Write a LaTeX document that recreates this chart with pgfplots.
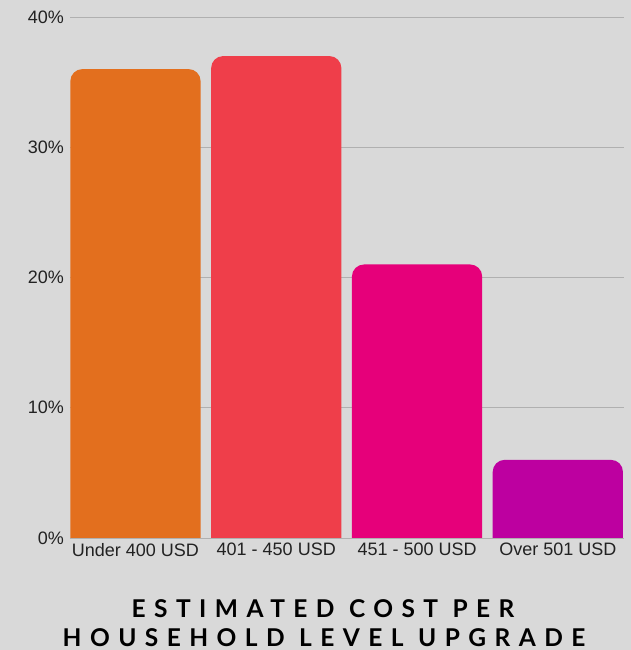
\documentclass[border=0pt]{standalone}
\usepackage{pgfplots}
\pgfplotsset{compat=1.18}
\usepackage{fontspec}
\setmainfont{Liberation Sans}
\newfontfamily\titlefont[LetterSpace=34.5]{Lato}
\definecolor{bg}{HTML}{D9D9D9}
\definecolor{gridc}{HTML}{B0B0B0}
\definecolor{cA}{HTML}{E36F1E}
\definecolor{cB}{HTML}{EF3E4A}
\definecolor{cC}{HTML}{E6007A}
\definecolor{cD}{HTML}{BD00A0}
\definecolor{txt}{HTML}{222222}
\begin{document}
\begin{tikzpicture}
\useasboundingbox (0,0) rectangle (631pt,650pt);
\fill[bg] (0,0) rectangle (631pt,650pt);
\begin{axis}[
  at={(70pt,112pt)}, anchor=south west,
  scale only axis, width=554pt, height=521pt,
  xmin=-0.465, xmax=3.47, ymin=0, ymax=40,
  axis line style={draw=none},
  tick style={draw=none},
  ymajorgrids, grid style={draw=gridc, line width=0.8pt},
  ytick={0,10,20,30,40},
  yticklabels={0\%,10\%,20\%,30\%,40\%},
  xtick={0,1,2,3},
  xticklabels={Under 400 USD,401 - 450 USD,451 - 500 USD,Over 501 USD},
  ticklabel style={font=\fontsize{18}{21}\selectfont, text=txt},
  yticklabel style={inner sep=0pt, xshift=-6pt},
  xticklabel style={inner sep=0pt, yshift=-5pt},
  clip=false,
  bar/.style={fill=#1, draw=none, no marks, /tikz/rounded corners=12pt},
]
% each bar: category centre +/- 0.4625, height = value (%)
\addplot[bar=cA] coordinates {(-0.4625,0) (-0.4625,36) (0.4625,36) (0.4625,0)};
\addplot[bar=cB] coordinates {(0.5375,0) (0.5375,37) (1.4625,37) (1.4625,0)};
\addplot[bar=cC] coordinates {(1.5375,0) (1.5375,21) (2.4625,21) (2.4625,0)};
\addplot[bar=cD] coordinates {(2.5375,0) (2.5375,6) (3.4625,6) (3.4625,0)};
\end{axis}
\node[anchor=base, inner sep=0pt, text=black] at (323pt,32.5pt) {\titlefont\bfseries\fontsize{24.5}{28}\selectfont ESTIMATED COST PER};
\node[anchor=base, inner sep=0pt, text=black] at (324pt,3pt) {\titlefont\bfseries\fontsize{24.5}{28}\selectfont HOUSEHOLD LEVEL UPGRADE};
\end{tikzpicture}
\end{document}
